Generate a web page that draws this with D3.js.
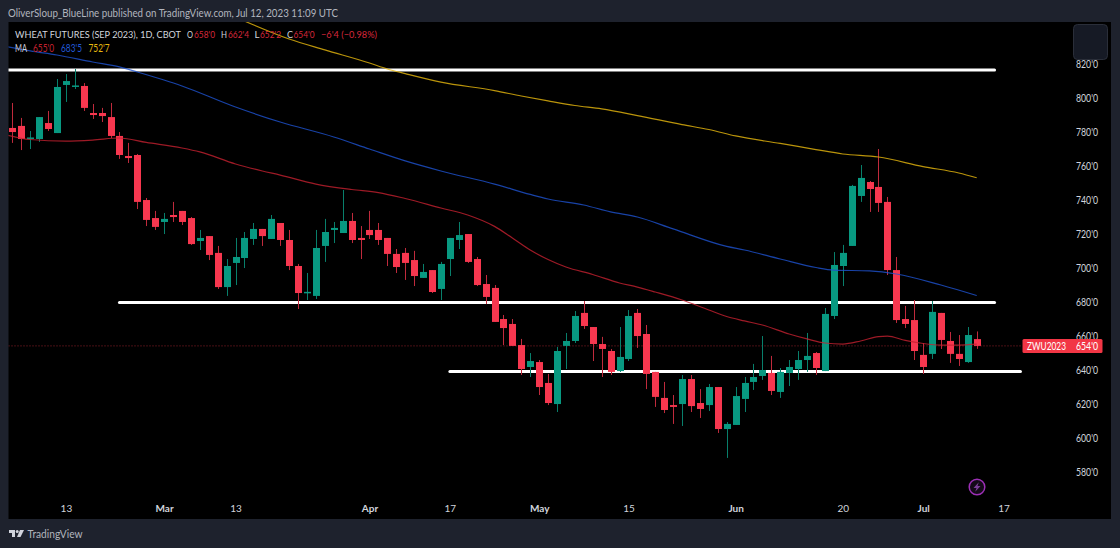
<!DOCTYPE html>
<html>
<head>
<meta charset="utf-8">
<script src="https://cdn.jsdelivr.net/npm/d3@7"></script>
<style>
  html, body { margin: 0; padding: 0; background: #1e222d; }
  svg { display: block; }
  text { font-family: Lato, sans-serif; }
</style>
</head>
<body>
<div id="target"></div>
<script>
// daily candles, wheat futures Sep 2023
var opens = [782.2,783.4,776.0,775.7,785.1,779.2,807.5,806.6,806.9,791.0,791.0,788.6,777.5,765.7,766.3,739.8,729.2,726.9,731.0,733.4,
  729.2,715.7,718.6,708.7,688.6,702.8,705.7,716.9,722.8,716.9,726.3,716.3,701.0,685.0,683.4,712.8,722.2,720.4,727.5,717.5,
  722.2,722.2,717.5,708.1,708.7,704.5,694.0,698.6,687.5,705.1,716.3,719.8,705.1,690.4,688.1,669.8,666.9,654.5,641.6,644.5,
  632.2,619.8,654.0,656.9,673.4,665.1,655.1,651.0,639.2,646.3,673.4,661.0,638.7,623.4,619.2,619.8,634.5,620.4,619.2,629.8,
  605.1,607.5,622.8,632.8,636.3,638.1,626.9,638.1,640.4,645.7,649.8,639.2,671.6,701.0,712.8,742.2,750.4,747.5,738.7,698.6,
  669.8,669.2,648.7,649.3,673.4,656.9,649.3,644.5,658.0];
var highs = [796.9,788.1,780.4,788.6,792.2,811.0,813.9,816.9,808.6,796.3,794.0,796.9,779.8,773.4,766.9,741.0,733.4,732.2,738.7,733.4,
  729.8,722.2,718.6,712.8,705.1,717.5,721.0,726.3,722.8,731.0,726.3,722.2,702.2,696.9,722.2,728.7,726.9,745.7,732.2,724.5,
  733.4,726.3,717.5,711.0,711.6,709.9,702.2,698.6,703.4,717.5,726.9,719.8,706.3,695.7,689.8,672.2,669.8,658.1,649.8,645.7,
  637.5,653.4,661.6,674.5,680.4,665.1,659.3,652.2,665.1,675.1,675.7,666.3,638.7,632.8,625.1,636.9,636.9,628.6,631.6,629.8,
  609.2,629.8,635.7,643.4,659.8,648.1,641.0,645.7,651.0,661.6,650.4,676.3,709.2,713.4,748.7,760.4,751.0,769.8,741.6,706.3,
  677.5,681.0,655.7,680.4,673.4,662.2,660.4,665.1,662.5];
var lows = [773.4,769.2,769.8,774.0,780.4,779.2,797.5,805.1,792.2,787.5,785.7,776.3,764.0,761.6,734.5,724.5,722.2,719.8,726.9,725.1,
  713.4,710.4,704.5,687.5,683.4,689.8,699.8,713.4,712.8,716.9,712.8,698.6,675.7,681.0,681.6,703.4,714.5,720.4,714.5,705.1,
  716.9,713.4,701.0,696.9,692.8,689.2,694.0,685.1,681.0,695.1,711.0,702.8,689.2,678.6,668.1,654.5,654.0,636.9,635.7,625.1,
  619.2,615.1,640.4,655.7,664.0,645.1,635.7,636.9,638.7,645.1,652.8,628.6,618.1,614.5,608.1,606.9,615.1,611.6,615.7,602.8,
  588.1,607.5,615.1,628.1,634.0,625.1,623.4,630.4,634.0,638.7,636.9,639.2,669.8,689.2,712.8,738.7,732.8,732.8,695.7,667.5,
  664.5,645.7,637.5,646.3,652.2,644.0,642.2,644.0,652.25];
var closes = [779.8,775.7,776.6,788.6,781.6,806.3,809.8,807.2,794.0,789.8,789.2,777.5,766.3,764.5,738.7,728.1,724.0,728.7,729.8,726.9,
  713.9,717.5,707.5,688.6,701.0,706.3,717.5,722.8,718.6,728.7,716.3,701.0,685.1,685.8,711.6,721.0,723.4,727.5,716.3,716.3,
  719.2,716.3,708.1,700.4,702.8,695.1,697.5,685.7,702.2,717.5,719.2,703.4,689.8,682.8,668.1,664.5,654.0,640.4,645.1,629.8,
  620.4,651.0,656.9,671.6,665.7,655.1,652.2,638.7,647.5,671.6,659.8,637.5,624.0,616.3,618.1,634.5,618.6,616.9,629.8,605.1,
  608.1,624.5,632.2,635.7,639.8,627.5,638.7,641.6,645.7,648.1,641.0,672.8,701.6,708.7,748.1,752.8,746.3,738.1,698.6,669.2,
  666.9,651.0,641.6,674.0,657.5,649.3,646.3,660.4,654.0];

// moving averages, read at these bar numbers
var ma1Bars = [-1,2,6,9,12,15,19,21,25,28,30,34,38,41,44,48,51,54,56,58,60,62,65,68,70,72,75,78,80,82,84,87,89,91,93,95,97,98,100,102,104,106,108];
var ma1Vals = [778.6,775.4,774.5,775.1,776.3,773.7,770.4,768.1,761.0,756.9,754.5,749.2,746.0,744.2,740.7,735.1,731.0,724.3,717.5,710.4,704.8,700.4,696.0,691.0,688.6,685.7,681.0,675.1,671.3,668.7,666.3,661.0,658.1,655.7,655.1,656.9,659.5,659.8,657.2,655.4,654.5,654.5,655.0];
var ma2Bars = [-1,2,5,9,12,14,19,25,30,36,40,44,48,54,58,60,64,67,70,74,80,82,86,90,92,96,99,104,108];
var ma2Vals = [830.4,827.5,825.1,821.0,818.1,815.1,806.9,794.5,785.7,776.9,769.8,762.8,756.9,749.2,743.1,740.4,736.9,732.8,729.8,722.8,712.5,710.4,705.1,700.1,698.6,698.1,696.3,689.8,683.6];
var ma3Bars = [26,31,35,40,42,44,48,54,57,60,63,66,70,75,78,81,86,90,93,97,102,106,108];
var ma3Vals = [845.1,834.5,828.1,820.4,816.9,814.2,809.2,804.2,801.0,798.1,795.4,793.4,789.5,784.2,781.3,777.5,773.1,769.5,766.9,765.1,759.5,755.7,752.9];

// horizontal levels: price, first bar, last bar
var levelPrices = [816.3, 679.5, 639.0];
var levelStart = [-1, 12, 49];
var levelEnd = [110, 110, 112.9];

var priceTicks = [580,600,620,640,660,680,700,720,740,760,780,800,820];
var dateTicks = [6,17,25,40,49,59,69,81,93,102,111];
var dateLabels = ["13","Mar","13","Apr","17","May","15","Jun","20","Jul","17"];
var monthLabels = ["Mar","Apr","May","Jun","Jul"];
var lastPrice = 654;

var up = "#089981", down = "#f7374f";

var svg = d3.select("#target").append("svg").attr("width", 1120).attr("height", 548);

var x = d3.scaleLinear().domain([0, 108]).range([12.3, 976.7]);
var y = d3.scaleLinear().domain([640, 820]).range([369.7, 63.7]);

// page and pane
svg.append("rect").attr("width", 1120).attr("height", 548).attr("fill", "#1e222d");
svg.append("rect").attr("x", 8.5).attr("y", 22).attr("width", 1102.5).attr("height", 497).attr("fill", "#000");
svg.append("defs").append("clipPath").attr("id", "pane").append("rect")
  .attr("x", 8.5).attr("y", 22).attr("width", 1102.5).attr("height", 497);

var plot = svg.append("g").attr("clip-path", "url(#pane)");

// last price dotted line
plot.append("line").attr("x1", 8.5).attr("x2", 1022).attr("y1", y(lastPrice)).attr("y2", y(lastPrice))
  .attr("stroke", "#f23645").attr("stroke-opacity", 0.6).attr("stroke-dasharray", "1 2");

// white levels, the candles go over them
plot.selectAll(".level").data(levelPrices).enter().append("line")
  .attr("class", "level")
  .attr("x1", function (d, i) { return x(levelStart[i]); })
  .attr("x2", function (d, i) { return x(levelEnd[i]); })
  .attr("y1", function (d) { return y(d); })
  .attr("y2", function (d) { return y(d); })
  .attr("stroke", "#fff").attr("stroke-width", 3).attr("stroke-linecap", "round");

// candles
var candles = plot.selectAll(".candle").data(opens).enter().append("g").attr("class", "candle");
candles.append("line")
  .attr("x1", function (d, i) { return Math.round(x(i)) + 0.5; })
  .attr("x2", function (d, i) { return Math.round(x(i)) + 0.5; })
  .attr("y1", function (d, i) { return y(highs[i]); })
  .attr("y2", function (d, i) { return y(lows[i]); })
  .attr("stroke", function (d, i) { return closes[i] >= opens[i] ? "#087f6b" : "#c02a3c"; });
candles.append("rect")
  .attr("x", function (d, i) { return Math.round(x(i)) - 3; })
  .attr("width", 7)
  .attr("y", function (d, i) { return y(Math.max(opens[i], closes[i])); })
  .attr("height", function (d, i) { return Math.max(1.5, Math.abs(y(opens[i]) - y(closes[i]))); })
  .attr("fill", function (d, i) { return closes[i] >= opens[i] ? up : down; });

// moving averages
var maLine = d3.line()
  .x(function (d) { return x(d[0]); })
  .y(function (d) { return y(d[1]); })
  .curve(d3.curveMonotoneX);

function drawMa(bars, vals, color) {
  plot.append("path")
    .attr("d", maLine(d3.zip(bars, vals)))
    .attr("fill", "none")
    .attr("stroke", color)
    .attr("stroke-opacity", 0.8)
    .attr("stroke-width", 1.2);
}
drawMa(ma1Bars, ma1Vals, "#c4202f");
drawMa(ma2Bars, ma2Vals, "#1e52d0");
drawMa(ma3Bars, ma3Vals, "#e8b90e");

// axes
var yAxis = d3.axisRight(y).tickValues(priceTicks).tickSize(0)
  .tickFormat(function (d) { return d + "'0"; });
var yg = svg.append("g").attr("transform", "translate(1076,0)").call(yAxis);
yg.select(".domain").remove();
yg.selectAll("text").attr("x", 0).attr("fill", "#d1d4dc").attr("font-size", 10.5)
  .attr("textLength", 22).attr("lengthAdjust", "spacingAndGlyphs")
  .style("font-family", "Lato, sans-serif");

var xAxis = d3.axisBottom(x).tickValues(dateTicks).tickSize(0)
  .tickFormat(function (d, i) { return dateLabels[i]; });
var xg = svg.append("g").attr("transform", "translate(0,504)").call(xAxis);
xg.select(".domain").remove();
xg.selectAll("text").attr("y", 0).attr("dy", "0.75em").attr("fill", "#d1d4dc").attr("font-size", 10)
  .attr("font-weight", function (d, i) { return monthLabels.indexOf(dateLabels[i]) >= 0 ? 700 : 400; })
  .style("font-family", "Lato, sans-serif");

// header and legend, width is what the text measures in the picture
function label(px, py, s, color, width, size) {
  var t = svg.append("text").attr("x", px).attr("y", py).attr("fill", color).attr("font-size", size || 10.5).text(s);
  if (width) t.attr("textLength", width).attr("lengthAdjust", "spacingAndGlyphs");
  return t;
}
label(8, 16.5, "OliverSloup_BlueLine published on TradingView.com, Jul 12, 2023 11:09 UTC", "#b2b5be", 330, 11);
label(15, 38, "WHEAT FUTURES (SEP 2023), 1D, CBOT", "#d1d4dc", 166, 9.8);
var legendRed = "#d9283b";
label(187, 38, "O", "#d1d4dc", 6, 9.8); label(194, 38, "658'0", legendRed, 21, 9.8);
label(221, 38, "H", "#d1d4dc", 6, 9.8); label(228, 38, "662'4", legendRed, 21, 9.8);
label(254.5, 38, "L", "#d1d4dc", 5, 9.8); label(260, 38, "652'2", legendRed, 21, 9.8);
label(287, 38, "C", "#d1d4dc", 6, 9.8); label(293.5, 38, "654'0", legendRed, 21, 9.8);
label(321, 38, "\u22126'4 (\u22120.98%)", legendRed, 56, 9.8);
label(15, 52, "MA", "#d1d4dc", 12);
label(33, 52, "655'0", "#c4202f", 21);
label(61, 52, "683'5", "#2158d6", 21);
label(88.5, 52, "752'7", "#e8b90e", 21);

// last price tag
svg.append("rect").attr("x", 1022.5).attr("y", y(lastPrice) - 7).attr("width", 80).attr("height", 14)
  .attr("rx", 1.5).attr("fill", "#f23645");
label(1027, y(lastPrice) + 3.8, "ZWU2023", "#fff", 39);
label(1076, y(lastPrice) + 3.8, lastPrice + "'0", "#fff", 22);

// top right button
svg.append("rect").attr("x", 1073.5).attr("y", 24.5).attr("width", 34).attr("height", 35).attr("rx", 4)
  .attr("fill", "#161a25").attr("stroke", "#2a2e39");

// purple lightning icon
var icon = svg.append("g").attr("transform", "translate(977,487)");
icon.append("circle").attr("r", 7.8).attr("fill", "#140a18").attr("stroke", "#9c2fb5").attr("stroke-width", 1.5);
icon.append("path").attr("d", "M1.8,-4.8 L-3.5,0.9 L-0.5,0.9 L-1.8,4.8 L3.5,-0.9 L0.5,-0.9 Z").attr("fill", "#7b3f98");

// TradingView logo
var logo = svg.append("g").attr("transform", "translate(9,530)").attr("fill", "#d1d4dc");
logo.append("path").attr("d", "M0,0 H6 V7 H3 V3 H0 Z");
logo.append("circle").attr("cx", 8.2).attr("cy", 1.5).attr("r", 1.5);
logo.append("path").attr("d", "M11,0 H15 L11.5,7 H8 Z");
label(27.5, 538, "TradingView", "#b2b5be", 55, 11.5);
</script>
</body>
</html>
